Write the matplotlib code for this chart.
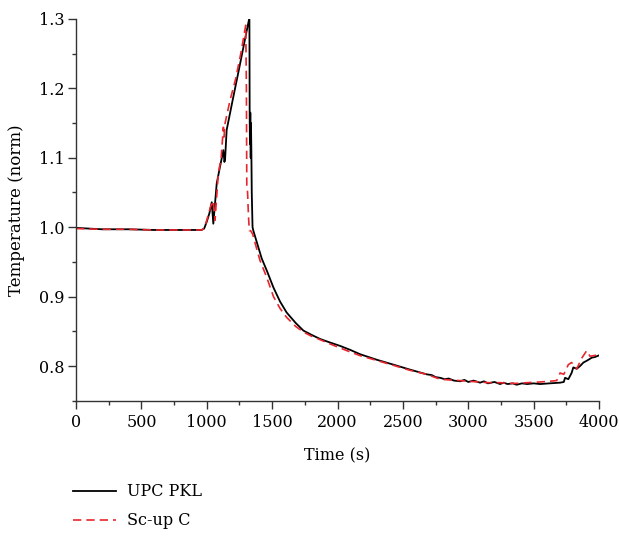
import numpy as np
import matplotlib.pyplot as plt
from matplotlib.ticker import MultipleLocator

# UPC PKL (black solid)
t_pkl = [0, 200, 400, 600, 800, 960, 980, 1000, 1020, 1038, 1050, 1076, 1101, 1127,
         1135, 1140, 1152, 1200, 1250, 1300, 1326, 1328, 1330, 1333, 1336, 1338, 1341,
         1344, 1350, 1356, 1380, 1420, 1460, 1510, 1560, 1611, 1680, 1739, 1800, 1866,
         1940, 2019, 2100, 2172, 2300, 2427, 2550, 2682, 2720, 2750, 2784, 2820, 2850,
         2890, 2937, 2970, 3000, 3040, 3090, 3120, 3150, 3200, 3243, 3270, 3300, 3340,
         3370, 3410, 3450, 3500, 3549, 3620, 3702, 3730, 3740, 3765, 3790, 3803, 3829,
         3855, 3880, 3910, 3944, 3970, 3995]
v_pkl = [0.999, 0.997, 0.997, 0.996, 0.996, 0.996, 0.998, 1.008, 1.020, 1.036, 1.005, 1.063,
         1.087, 1.111, 1.094, 1.098, 1.140, 1.185, 1.231, 1.278, 1.302, 1.160, 1.120, 1.165,
         1.100, 1.150, 1.110, 1.050, 1.000, 0.995, 0.980, 0.955, 0.937, 0.913, 0.893, 0.877,
         0.862, 0.851, 0.845, 0.839, 0.834, 0.829, 0.823, 0.817, 0.809, 0.802, 0.795, 0.788,
         0.787, 0.784, 0.783, 0.781, 0.782, 0.779, 0.778, 0.780, 0.777, 0.779, 0.776, 0.778,
         0.775, 0.777, 0.774, 0.776, 0.774, 0.775, 0.773, 0.775, 0.774, 0.775, 0.774, 0.775,
         0.776, 0.777, 0.783, 0.781, 0.790, 0.798, 0.796, 0.800, 0.805, 0.808, 0.812, 0.813,
         0.815]

# Sc-up C (red dashed)
t_scup = [0, 200, 400, 600, 800, 960, 980, 1000, 1030, 1050, 1063, 1088, 1110, 1127, 1132,
          1140, 1178, 1220, 1260, 1298, 1303, 1306, 1312, 1318, 1325, 1335, 1351, 1380, 1407,
          1458, 1510, 1560, 1611, 1680, 1739, 1800, 1866, 1940, 2019, 2100, 2172, 2300, 2427,
          2550, 2682, 2784, 2850, 2937, 3000, 3090, 3150, 3243, 3300, 3370, 3450, 3549, 3620,
          3676, 3702, 3730, 3765, 3790, 3829, 3870, 3905, 3931, 3960, 3995]
v_scup = [0.998, 0.997, 0.997, 0.996, 0.996, 0.996, 0.998, 1.010, 1.030, 1.038, 1.010, 1.077,
          1.100, 1.144, 1.130, 1.150, 1.183, 1.213, 1.250, 1.291, 1.200, 1.060, 1.050, 1.020,
          0.995, 0.995, 0.990, 0.970, 0.952, 0.928, 0.900, 0.883, 0.870, 0.857, 0.849, 0.843,
          0.838, 0.832, 0.826, 0.820, 0.815, 0.808, 0.801, 0.794, 0.788, 0.781, 0.780, 0.779,
          0.778, 0.777, 0.776, 0.776, 0.775, 0.775, 0.776, 0.777, 0.778, 0.779, 0.790, 0.788,
          0.802, 0.805, 0.796, 0.812, 0.822, 0.814, 0.815, 0.816]

plt.rcParams['font.family'] = ['DejaVu Serif']
fs = 11.5

fig = plt.figure(figsize=(6.19, 5.36), dpi=100)
ax = fig.add_axes([0.1228, 0.2524, 0.845, 0.7122])

l1, = ax.plot(t_pkl, v_pkl, color='black', lw=1.3, label='UPC PKL')
l2, = ax.plot(t_scup, v_scup, color='#e8262d', lw=1.2, dashes=(5, 3), label='Sc-up C')

ax.set_xlim(0, 4000)
ax.set_ylim(0.75, 1.3)
ax.xaxis.set_major_locator(MultipleLocator(500))
ax.xaxis.set_minor_locator(MultipleLocator(250))
ax.yaxis.set_major_locator(MultipleLocator(0.1))
ax.yaxis.set_minor_locator(MultipleLocator(0.05))
ax.tick_params(which='major', direction='out', length=6, width=1.0, color='#333333', labelsize=fs)
ax.tick_params(axis='y', which='major', pad=2)
ax.tick_params(which='minor', direction='out', length=3, width=1.0, color='#333333')
ax.yaxis.set_major_formatter(plt.FuncFormatter(lambda v, p: f'{v:.1f}'))

for s in ['top', 'right']:
    ax.spines[s].set_visible(False)
for s in ['left', 'bottom']:
    ax.spines[s].set_color('#333333')
    ax.spines[s].set_linewidth(1.0)

ax.set_xlabel('Time (s)', fontsize=fs, labelpad=12)
ax.set_ylabel('Temperature (norm)', fontsize=fs + 0.5, labelpad=10)

fig.legend(handles=[l1, l2], loc='upper left', bbox_to_anchor=(0.118, 0.098),
           frameon=False, fontsize=fs, handlelength=2.7, handletextpad=0.7,
           labelspacing=0.75, borderaxespad=0, borderpad=0)

fig.savefig('out.png', dpi=100)
